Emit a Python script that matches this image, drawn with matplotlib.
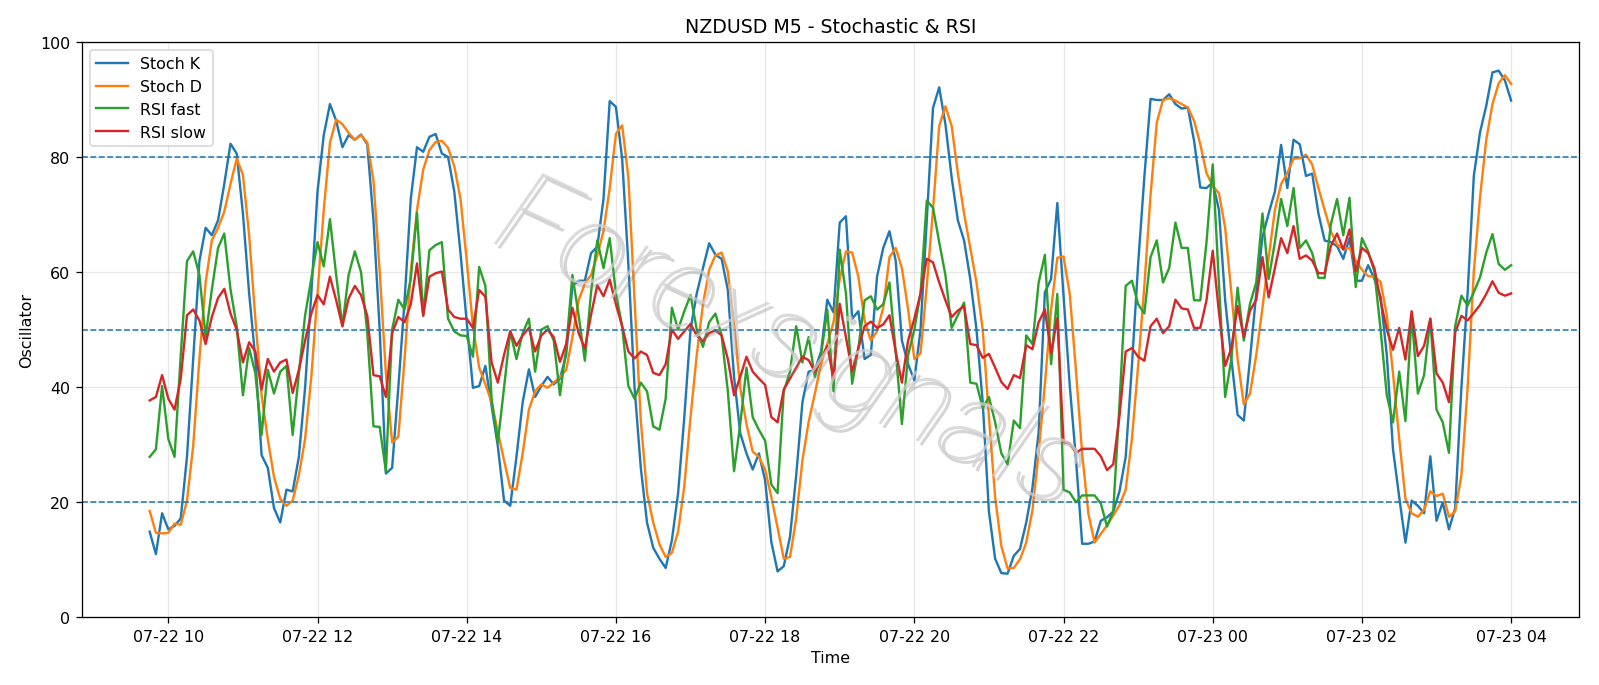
import matplotlib
matplotlib.use("Agg")
import matplotlib.pyplot as plt
import matplotlib.dates as mdates
import matplotlib.patheffects as pe
import pandas as pd

start_time = "2025-07-22 09:45"
n_points = 220

stoch_k = [
    14.9, 11.0, 18.1, 15.3, 15.9, 17.2, 27.9, 45.0, 61.9, 67.7,
    66.4, 69.0, 75.3, 82.3, 80.6, 70.2, 56.3, 44.9, 28.2, 26.0,
    19.0, 16.5, 22.2, 21.9, 27.9, 39.9, 56.3, 74.0, 83.8, 89.2,
    86.3, 81.7, 83.8, 83.0, 83.9, 82.2, 69.0, 50.0, 25.0, 26.0,
    40.0, 55.0, 72.7, 81.7, 80.9, 83.5, 84.0, 80.6, 80.0, 74.0,
    63.3, 51.3, 39.9, 40.2, 43.7, 36.7, 29.8, 20.3, 19.4, 27.9,
    37.4, 43.1, 38.3, 40.2, 41.8, 40.5, 41.5, 45.6, 57.6, 58.5,
    58.5, 63.3, 64.4, 72.7, 89.7, 88.7, 79.7, 61.4, 39.9, 26.0,
    16.5, 12.1, 10.2, 8.6, 13.4, 21.6, 34.8, 50.0, 56.3, 60.7,
    65.0, 63.0, 62.3, 56.9, 41.8, 32.0, 28.5, 25.7, 28.5, 23.8,
    13.1, 8.0, 8.9, 14.0, 24.7, 37.4, 42.7, 43.0, 46.2, 55.2,
    53.0, 68.6, 69.7, 51.9, 53.2, 44.9, 45.6, 59.2, 64.2, 67.1,
    62.0, 48.1, 44.0, 41.2, 50.0, 69.0, 88.5, 92.1, 85.7, 76.5,
    69.0, 65.5, 58.8, 50.0, 37.4, 18.4, 10.2, 7.7, 7.6, 10.7,
    11.9, 16.5, 22.5, 32.2, 56.5, 58.8, 72.0, 55.9, 40.3, 27.5,
    12.8, 12.8, 13.2, 16.8, 17.4, 18.4, 21.9, 27.9, 43.7, 61.4,
    76.5, 90.1, 89.9, 89.9, 90.9, 89.2, 88.4, 88.6, 82.8, 74.7,
    74.6, 75.6, 70.8, 55.1, 44.9, 35.2, 34.2, 44.9, 56.3, 66.1,
    70.2, 74.0, 82.1, 74.6, 83.0, 82.2, 76.7, 77.1, 70.2, 65.5,
    65.2, 64.5, 62.3, 65.9, 58.5, 58.5, 61.2, 58.8, 55.7, 45.6,
    29.2, 20.9, 13.0, 20.3, 19.4, 18.1, 28.0, 16.8, 20.0, 15.3,
    19.0, 39.9, 56.3, 76.7, 84.3, 88.9, 94.7, 95.0, 93.3, 89.8,
]

stoch_d = [
    18.5, 14.7, 14.6, 14.7, 16.3, 16.1, 20.3, 29.8, 44.9, 58.2,
    65.5, 67.7, 70.5, 75.3, 79.7, 76.9, 66.4, 51.9, 38.6, 31.0,
    24.4, 20.6, 19.4, 20.3, 24.7, 31.0, 41.8, 56.3, 70.8, 82.5,
    86.5, 85.7, 84.2, 83.0, 83.8, 82.5, 75.9, 60.1, 42.4, 30.4,
    31.4, 44.9, 60.1, 70.8, 77.8, 81.2, 82.6, 82.8, 81.6, 78.4,
    72.7, 62.0, 50.6, 43.4, 40.5, 37.4, 32.3, 27.3, 22.5, 22.2,
    28.5, 36.1, 39.3, 40.5, 39.9, 40.8, 41.8, 43.0, 48.7, 55.1,
    58.0, 59.5, 62.9, 67.1, 74.6, 84.0, 85.5, 76.5, 55.1, 34.2,
    21.6, 16.5, 12.7, 10.5, 11.2, 14.9, 22.8, 34.8, 45.6, 54.4,
    60.4, 62.9, 63.4, 60.1, 50.6, 39.9, 33.6, 28.8, 27.9, 25.7,
    20.9, 15.6, 10.2, 10.5, 17.2, 27.3, 34.0, 38.9, 44.0, 47.5,
    51.3, 58.8, 63.6, 63.4, 59.2, 51.6, 48.1, 49.7, 53.8, 62.6,
    64.2, 60.7, 53.5, 44.9, 45.9, 57.6, 70.8, 85.4, 88.8, 85.4,
    77.2, 70.2, 64.2, 58.2, 50.0, 34.8, 20.9, 12.4, 8.5, 8.6,
    10.1, 13.0, 18.6, 28.7, 40.5, 53.5, 62.5, 62.7, 56.2, 42.9,
    28.4, 18.0, 13.0, 14.5, 16.0, 17.7, 19.5, 22.2, 31.0, 43.7,
    57.6, 73.4, 86.0, 89.9, 90.2, 89.8, 89.2, 88.6, 86.3, 82.2,
    77.2, 75.0, 73.7, 67.7, 56.3, 44.9, 37.0, 38.9, 45.6, 53.8,
    62.5, 70.8, 75.3, 77.2, 79.7, 79.8, 80.4, 78.7, 74.6, 70.8,
    67.1, 64.8, 64.0, 64.2, 62.0, 60.4, 59.3, 59.2, 58.3, 52.5,
    42.4, 31.0, 20.6, 18.1, 17.5, 18.7, 21.9, 21.1, 21.5, 17.5,
    18.4, 24.7, 39.9, 60.1, 73.0, 83.0, 89.2, 92.8, 94.2, 92.7,
]

rsi_fast = [
    27.9, 29.2, 40.2, 31.0, 27.9, 45.6, 61.9, 63.6, 59.5, 48.7,
    57.0, 64.2, 66.7, 57.0, 50.6, 38.6, 46.8, 42.4, 31.7, 43.0,
    38.9, 42.7, 43.7, 31.7, 42.4, 52.5, 58.8, 65.2, 61.0, 69.2,
    59.5, 50.6, 59.5, 63.6, 60.0, 49.5, 33.2, 33.1, 25.4, 50.0,
    55.2, 53.5, 58.8, 70.3, 52.5, 63.8, 64.7, 65.2, 51.9, 49.7,
    49.0, 48.9, 45.3, 60.9, 57.6, 38.0, 30.4, 39.9, 49.7, 44.9,
    49.4, 51.9, 42.7, 50.0, 50.6, 48.1, 38.6, 46.8, 59.5, 52.5,
    44.6, 56.5, 65.5, 60.7, 65.9, 56.3, 50.6, 40.2, 38.0, 40.8,
    39.3, 33.2, 32.6, 38.0, 53.8, 50.0, 53.2, 56.0, 50.0, 47.0,
    51.3, 52.8, 49.0, 39.3, 25.4, 33.6, 43.4, 34.8, 32.6, 30.7,
    23.1, 21.6, 39.3, 42.7, 50.6, 44.3, 48.7, 41.8, 45.6, 53.5,
    39.3, 63.9, 56.3, 40.6, 46.8, 55.1, 55.8, 53.5, 54.4, 58.2,
    46.2, 33.6, 45.6, 50.0, 56.3, 72.4, 71.2, 65.2, 59.5, 50.3,
    52.5, 54.7, 40.8, 40.6, 36.4, 38.3, 33.9, 28.5, 26.6, 34.2,
    32.9, 49.0, 47.5, 58.2, 63.0, 44.0, 56.2, 22.2, 21.7, 20.0,
    21.2, 21.2, 21.2, 19.8, 15.8, 18.5, 37.0, 57.6, 58.5, 54.4,
    52.8, 62.6, 65.5, 58.2, 60.7, 68.6, 64.2, 64.2, 55.1, 55.1,
    65.2, 78.7, 58.0, 38.3, 44.9, 57.3, 48.1, 54.5, 58.2, 70.2,
    58.8, 65.2, 72.7, 68.0, 74.6, 64.2, 65.5, 63.3, 59.0, 59.0,
    68.3, 72.7, 66.4, 72.9, 57.4, 65.9, 63.6, 60.1, 50.0, 38.6,
    33.9, 42.7, 34.1, 52.5, 38.9, 42.1, 51.9, 36.1, 33.9, 28.6,
    50.6, 55.9, 54.2, 56.5, 59.1, 63.4, 66.6, 61.4, 60.4, 61.2,
]

rsi_slow = [
    37.7, 38.3, 42.1, 38.0, 36.1, 41.5, 52.5, 53.5, 51.6, 47.5,
    52.2, 55.5, 57.1, 52.8, 50.0, 44.3, 47.8, 46.2, 39.6, 44.9,
    42.7, 44.3, 44.8, 39.0, 43.0, 48.1, 52.8, 56.0, 54.4, 59.2,
    55.1, 50.6, 55.4, 57.6, 56.0, 52.4, 42.1, 41.9, 38.3, 49.4,
    52.2, 51.3, 54.4, 61.5, 52.4, 59.2, 59.8, 60.1, 53.5, 52.2,
    51.9, 51.9, 50.3, 56.9, 55.7, 44.3, 40.8, 45.6, 49.7, 47.2,
    49.0, 50.3, 46.2, 49.0, 50.0, 48.7, 44.4, 47.5, 53.8, 49.4,
    46.7, 52.6, 57.7, 55.8, 58.7, 54.4, 50.6, 46.2, 45.0, 46.2,
    45.6, 42.5, 42.1, 44.0, 50.0, 48.4, 49.7, 51.0, 49.0, 48.0,
    49.4, 49.9, 49.0, 44.9, 38.6, 41.8, 45.3, 42.7, 41.5, 40.4,
    34.8, 33.9, 39.6, 41.5, 43.4, 45.3, 44.7, 42.7, 44.9, 47.2,
    41.5, 54.5, 48.7, 42.7, 46.8, 50.6, 51.4, 50.3, 50.9, 52.5,
    46.2, 40.8, 48.1, 51.9, 56.3, 62.3, 61.7, 58.2, 55.1, 52.2,
    53.3, 54.1, 47.5, 47.3, 45.1, 45.8, 43.4, 40.9, 39.7, 42.1,
    41.6, 47.3, 46.6, 51.3, 53.5, 45.9, 52.0, 30.5, 30.2, 28.6,
    29.3, 29.3, 29.3, 28.0, 25.6, 26.6, 35.0, 46.2, 46.8, 45.3,
    44.6, 50.6, 51.9, 49.4, 50.6, 55.2, 53.7, 53.5, 50.3, 50.3,
    55.1, 63.7, 53.0, 43.7, 46.8, 54.1, 48.7, 53.3, 55.2, 62.6,
    55.6, 60.7, 65.9, 63.3, 68.0, 62.3, 62.9, 62.0, 59.8, 59.8,
    64.5, 66.7, 63.9, 67.4, 60.1, 64.2, 63.3, 60.7, 55.1, 50.0,
    46.5, 50.3, 44.8, 53.2, 45.4, 47.2, 51.9, 42.4, 40.8, 37.4,
    49.5, 52.4, 51.6, 52.9, 54.3, 56.2, 58.4, 56.4, 55.9, 56.3,
]

levels = [20, 50, 80]
title = "NZDUSD M5 - Stochastic & RSI"
watermark = "Forexsignals"

times = pd.date_range(start_time, periods=n_points, freq="5min")

fig = plt.figure(figsize=(14, 6.0025), dpi=114.2857)
ax = fig.add_axes([0.051, 0.0985, 0.936, 0.839])

ax.plot(times, stoch_k, label="Stoch K", color="#1f77b4", lw=1.5)
ax.plot(times, stoch_d, label="Stoch D", color="#ff7f0e", lw=1.5)
ax.plot(times, rsi_fast, label="RSI fast", color="#2ca02c", lw=1.5)
ax.plot(times, rsi_slow, label="RSI slow", color="#d62728", lw=1.5)

for lv in levels:
    ax.axhline(lv, color="#1f77b4", linestyle="--", linewidth=1)

ax.set_ylim(0, 100)
ax.xaxis.set_major_locator(mdates.HourLocator(byhour=range(0, 24, 2)))
ax.xaxis.set_major_formatter(mdates.DateFormatter("%m-%d %H"))
ax.grid(True, alpha=0.3)
ax.set_title(title, fontsize=12)
ax.set_xlabel("Time")
ax.set_ylabel("Oscillator")
ax.legend(loc="upper left")

ax.text(0.472, 0.472, watermark, transform=ax.transAxes, fontsize=75,
        family=["Roboto", "DejaVu Sans"], fontweight=100,
        color="#d0d0d0", alpha=0.75, rotation=-25, ha="center", va="center",
        fontstyle="italic", zorder=10,
        path_effects=[pe.SimplePatchShadow(offset=(2.5, -2.5), shadow_rgbFace="#888888", alpha=0.35),
                      pe.Normal()])

fig.savefig("out.png", dpi=114.2857)
